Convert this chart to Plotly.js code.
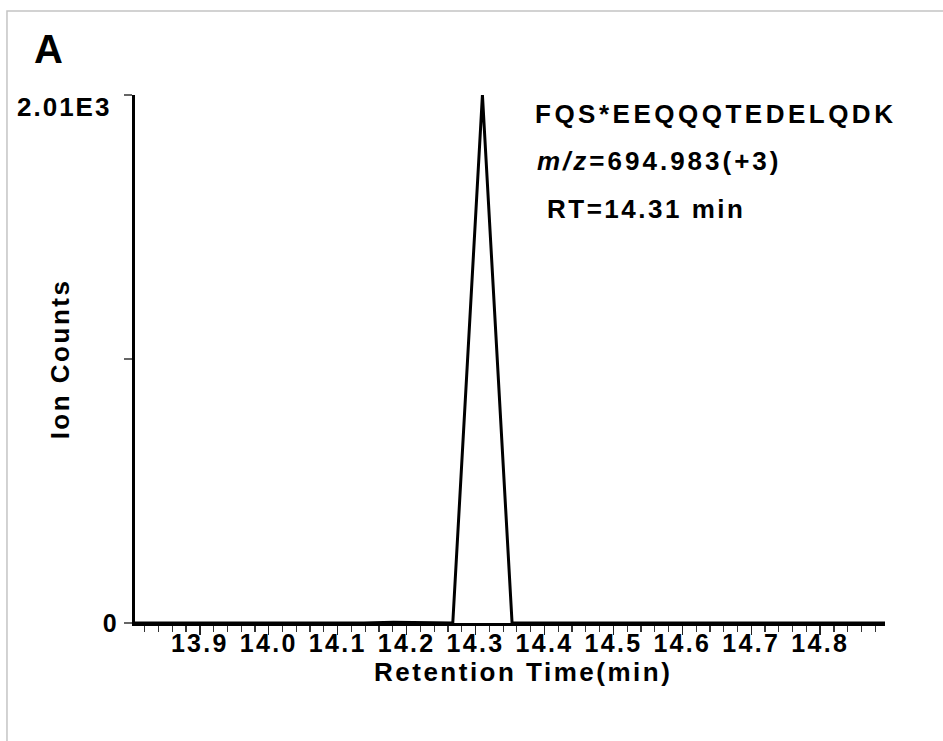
<!DOCTYPE html>
<html>
<head>
<meta charset="utf-8">
<script src="https://cdn.plot.ly/plotly-3.0.1.min.js"></script>
<style>
  html, body { margin: 0; padding: 0; background: #fff; }
  #chart { width: 943px; height: 741px; }
  .xtick text, .ytick text { letter-spacing: 2.3px; }
  .xtitle, .ytitle { letter-spacing: 2.5px; }
</style>
</head>
<body>
<div id="chart"></div>
<script>
// Retention time (min) and ion counts
const rtMin     = [13.806, 14.138, 14.181, 14.224, 14.267, 14.310, 14.353, 14.396, 14.894];
const ionCounts = [0,      0,      3,      1,      0,      2010,   0,      0,      0];

// y-axis tick values / labels
const yTickVals = [0, 1005, 2010];
const yTickText = ['0', '', ''];
const yTopLabel = '2.01E3';

// titles and text annotations
const xTitle = 'Retention Time(min)';
const yTitle = 'Ion Counts';
const panelLabel = 'A';
const peptide = 'FQS*EEQQQTEDELQDK';
const mzText = '<i>m/z</i>=694.983(+3)';
const rtText = 'RT=14.31 min';

const F = 'Liberation Sans, Arial, sans-serif';
const TXT = { family: F, size: 26, color: '#000', weight: 700 };
const TICKF = { family: F, size: 25, color: '#000', weight: 700 };

const trace = {
  x: rtMin, y: ionCounts, type: 'scatter', mode: 'lines',
  line: { color: '#000', width: 3 },
  hoverinfo: 'skip', showlegend: false
};

const layout = {
  width: 943, height: 741,
  margin: { l: 135, r: 58, t: 95, b: 118 },
  paper_bgcolor: '#fff', plot_bgcolor: '#fff',
  showlegend: false,
  xaxis: {
    range: [13.806, 14.894],
    tick0: 13.9, dtick: 0.1, tickformat: '.1f',
    ticks: 'outside', ticklen: 9, tickwidth: 1.5, tickcolor: '#222',
    ticklabelstandoff: -13,
    minor: { tick0: 13.8, dtick: 0.02, ticks: 'outside', ticklen: 6, tickwidth: 1.2, tickcolor: '#333', showgrid: false },
    showline: true, linecolor: '#000', linewidth: 3,
    showgrid: false, zeroline: false, tickangle: 0,
    tickfont: TICKF
  },
  yaxis: {
    range: [0, 2010],
    tickmode: 'array', tickvals: yTickVals, ticktext: yTickText,
    ticks: 'outside', ticklen: 8, tickwidth: 1.5, tickcolor: '#666',
    showline: true, linecolor: '#000', linewidth: 3,
    showgrid: false, zeroline: false,
    tickfont: TICKF,
    title: { text: yTitle, standoff: 26, font: TXT }
  },
  annotations: [
    { text: '<span style="letter-spacing:2.5px">' + xTitle + '</span>', xref: 'paper', yref: 'paper', x: 0.5173, y: -0.0928,
      xanchor: 'center', yanchor: 'middle', showarrow: false, font: TXT },
    { text: panelLabel, xref: 'paper', yref: 'paper', x: -0.137, y: 1.087,
      xanchor: 'left', yanchor: 'middle', showarrow: false,
      font: { family: F, size: 40, color: '#000', weight: 700 } },
    { text: '<span style="letter-spacing:2px">' + yTopLabel + '</span>', xref: 'paper', yref: 'paper', x: -0.03, y: 0.978,
      xanchor: 'right', yanchor: 'middle', showarrow: false, font: TXT },
    { text: '<span style="letter-spacing:3.5px">' + peptide + '</span>', xref: 'paper', yref: 'paper', x: 0.5307, y: 0.964,
      xanchor: 'left', yanchor: 'middle', showarrow: false, font: TXT },
    { text: '<span style="letter-spacing:3px">' + mzText + '</span>', xref: 'paper', yref: 'paper', x: 0.5333, y: 0.875,
      xanchor: 'left', yanchor: 'middle', showarrow: false, font: TXT },
    { text: '<span style="letter-spacing:2.5px">' + rtText + '</span>', xref: 'paper', yref: 'paper', x: 0.5467, y: 0.784,
      xanchor: 'left', yanchor: 'middle', showarrow: false, font: TXT }
  ],
  shapes: [
    { type: 'path', xref: 'paper', yref: 'paper',
      path: 'M -0.1707,-0.25 L -0.1707,1.159 L 1.09,1.159',
      line: { color: '#c4c4c4', width: 1.5 } }
  ]
};

Plotly.newPlot('chart', [trace], layout, { displayModeBar: false, staticPlot: true });
</script>
</body>
</html>
